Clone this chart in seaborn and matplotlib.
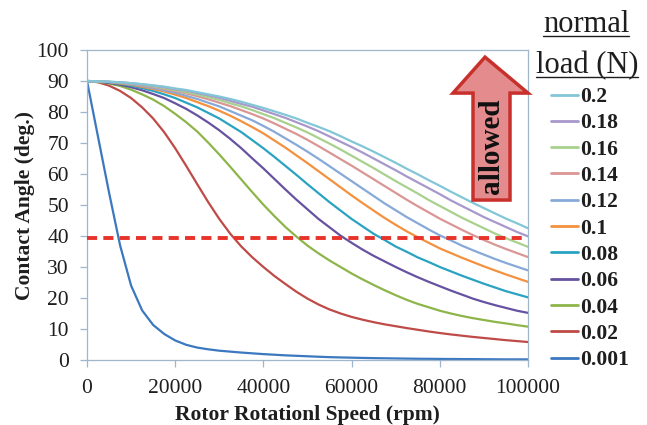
import matplotlib
matplotlib.use("Agg")
import matplotlib.pyplot as plt
import seaborn as sns
import pandas as pd
from matplotlib.patches import Polygon
from matplotlib.lines import Line2D

# ---------------- data ----------------
speed = list(range(0, 100001, 2500))   # rpm sampling grid (41 points)

loads = ["0.001", "0.02", "0.04", "0.06", "0.08", "0.1",
         "0.12", "0.14", "0.16", "0.18", "0.2"]

angle_0001 = [90, 72, 54, 37, 24, 16, 11.3, 8.4, 6.3, 4.9, 4.0, 3.45, 3.0, 2.7, 2.4,
              2.15, 1.9, 1.7, 1.5, 1.35, 1.2, 1.05, 0.92, 0.83, 0.75, 0.67, 0.6, 0.55,
              0.5, 0.45, 0.4, 0.38, 0.35, 0.32, 0.3, 0.28, 0.25, 0.23, 0.2, 0.2, 0.2]
angle_002 = [90, 89.6, 88.5, 86.8, 84.5, 81.5, 77.9, 73.5, 68.3, 62.6, 56.7, 50.9, 45.5,
             40.7, 36.6, 33.1, 30.0, 27.1, 24.5, 22.0, 19.8, 17.9, 16.3, 15.0, 13.9, 13.0,
             12.2, 11.5, 10.9, 10.3, 9.75, 9.2, 8.7, 8.25, 7.85, 7.45, 7.1, 6.75, 6.4,
             6.1, 5.8]
angle_004 = [90, 89.7, 89.2, 88.4, 87.2, 85.7, 84.0, 81.9, 79.4, 76.7, 73.7, 70.1, 66.3,
             62.3, 58.2, 54.1, 50.1, 46.4, 42.9, 39.8, 36.9, 34.4, 32.1, 30.0, 27.9, 26.0,
             24.2, 22.5, 20.9, 19.4, 18.1, 17.0, 15.9, 15.0, 14.2, 13.5, 12.9, 12.3, 11.8,
             11.25, 10.75]
angle_006 = [90, 89.8, 89.4, 88.8, 88.0, 87.0, 85.8, 84.5, 82.8, 81.0, 78.9, 76.6, 74.1,
             71.3, 68.3, 65.0, 61.8, 58.4, 55.0, 51.7, 48.6, 45.5, 42.8, 40.1, 37.8, 35.6,
             33.6, 31.8, 30.0, 28.3, 26.7, 25.2, 23.8, 22.4, 21.1, 19.8, 18.7, 17.7, 16.8,
             15.9, 15.2]
angle_008 = [90, 89.8, 89.6, 89.1, 88.5, 87.7, 86.8, 85.7, 84.5, 83.0, 81.5, 79.7, 77.9,
             75.7, 73.5, 70.9, 68.3, 65.5, 62.6, 59.7, 56.7, 53.8, 50.9, 48.2, 45.5, 43.1,
             40.7, 38.7, 36.6, 34.9, 33.1, 31.6, 30.0, 28.6, 27.2, 25.9, 24.6, 23.4, 22.2,
             21.2, 20.2]
angle_010 = [90, 89.8, 89.7, 89.2, 88.8, 88.1, 87.4, 86.6, 85.6, 84.5, 83.2, 81.9, 80.4,
             78.8, 77.0, 75.1, 73.1, 70.8, 68.5, 66.0, 63.5, 60.9, 58.3, 55.7, 53.1, 50.6,
             48.2, 45.8, 43.6, 41.5, 39.6, 37.8, 36.0, 34.5, 33.0, 31.6, 30.2, 28.9, 27.6,
             26.4, 25.2]
angle_012 = [90, 89.8, 89.7, 89.4, 88.9, 88.4, 87.7, 87.0, 86.2, 85.2, 84.2, 83.0, 81.8,
             80.3, 78.8, 77.3, 75.5, 73.6, 71.5, 69.4, 67.2, 64.9, 62.5, 60.1, 57.7, 55.3,
             52.9, 50.5, 48.3, 46.1, 44.1, 42.1, 40.2, 38.6, 36.9, 35.4, 34.0, 32.6, 31.3,
             30.1, 28.9]
angle_014 = [90, 89.9, 89.7, 89.5, 89.1, 88.6, 88.1, 87.4, 86.8, 86.0, 85.1, 84.1, 83.0,
             81.9, 80.6, 79.3, 77.9, 76.3, 74.6, 72.9, 71.0, 69.0, 66.9, 64.8, 62.7, 60.5,
             58.3, 56.1, 53.9, 51.7, 49.6, 47.6, 45.6, 43.8, 42.0, 40.3, 38.7, 37.2, 35.8,
             34.5, 33.2]
angle_016 = [90, 89.9, 89.7, 89.5, 89.2, 88.8, 88.3, 87.7, 87.1, 86.4, 85.6, 84.8, 83.9,
             82.8, 81.8, 80.6, 79.3, 78.0, 76.5, 75.0, 73.4, 71.6, 69.8, 67.9, 65.9, 63.9,
             61.9, 59.8, 57.7, 55.7, 53.7, 51.6, 49.7, 47.8, 45.9, 44.2, 42.5, 40.8, 39.3,
             37.9, 36.5]
angle_018 = [90, 89.9, 89.7, 89.6, 89.3, 88.9, 88.5, 88.0, 87.4, 86.9, 86.1, 85.4, 84.6,
             83.6, 82.6, 81.7, 80.5, 79.3, 78.1, 76.7, 75.3, 73.8, 72.1, 70.4, 68.7, 66.9,
             65.0, 63.1, 61.2, 59.2, 57.3, 55.4, 53.5, 51.5, 49.7, 47.9, 46.1, 44.5, 42.9,
             41.3, 39.9]
angle_020 = [90, 89.9, 89.8, 89.6, 89.3, 89.0, 88.6, 88.2, 87.6, 87.1, 86.4, 85.7, 85.0,
             84.2, 83.3, 82.3, 81.3, 80.2, 79.1, 77.9, 76.5, 75.2, 73.8, 72.2, 70.5, 68.9,
             67.2, 65.4, 63.6, 61.7, 59.9, 58.0, 56.2, 54.3, 52.5, 50.7, 49.0, 47.3, 45.6,
             44.1, 42.5]

threshold = 39.5

colors = {
    "0.001": "#3B78C0", "0.02": "#BE4B48", "0.04": "#8DB54A", "0.06": "#6652A0",
    "0.08": "#2AA2C2", "0.1": "#F3913E", "0.12": "#86A9D8", "0.14": "#D99694",
    "0.16": "#A9D18E", "0.18": "#A898CB", "0.2": "#82C6D8",
}

series = {
    "0.001": angle_0001, "0.02": angle_002, "0.04": angle_004, "0.06": angle_006,
    "0.08": angle_008, "0.1": angle_010, "0.12": angle_012, "0.14": angle_014,
    "0.16": angle_016, "0.18": angle_018, "0.2": angle_020,
}

rows = []
for ld in loads:
    for xv, yv in zip(speed, series[ld]):
        rows.append({"speed": xv, "angle": yv, "load": ld})
df = pd.DataFrame(rows)

# ---------------- style ----------------
sns.set_theme(style="white")
plt.rcParams["font.family"] = ["Liberation Serif", "DejaVu Serif"]
frame_col = "#9FB6CD"
text_col = "#1E1E1E"

W, H = 647, 425
fig = plt.figure(figsize=(W / 100, H / 100), dpi=100)
ax = fig.add_axes([87 / W, 65 / H, 441 / W, 310 / H])

sns.lineplot(data=df, x="speed", y="angle", hue="load", hue_order=loads,
             palette=colors, linewidth=1.6, estimator=None, legend=False, ax=ax)

# allowed threshold
ax.plot([0, 100000], [threshold, threshold], color="#E8332A", lw=2.8,
        dashes=(2.6, 1.6), solid_capstyle="butt", dash_capstyle="butt", zorder=5)

ax.set_xlim(0, 100000)
ax.set_ylim(0, 100)
xt = [0, 20000, 40000, 60000, 80000, 100000]
ax.set_xticks(xt)
ax.set_xticklabels([str(v) for v in xt])
ax.set_yticks(range(0, 101, 10))

for s in ax.spines.values():
    s.set_color(frame_col)
    s.set_linewidth(0.9)
ax.tick_params(axis="both", which="both", bottom=True, left=True, direction="out",
               length=5, width=0.9, color=frame_col, labelsize=15.5, labelcolor=text_col)
ax.tick_params(axis="x", pad=9)
ax.tick_params(axis="y", pad=8)

ax.set_xlabel("Rotor Rotationl Speed (rpm)", fontsize=15.5, fontweight="bold",
              color=text_col)
ax.set_ylabel("Contact Angle (deg.)", fontsize=15.5, fontweight="bold", color=text_col)
ax.xaxis.set_label_coords(0.5, -0.145)
ax.yaxis.set_label_coords(-0.117, 0.5)

# "allowed" arrow
arrow_pts = [(87530, 51.6), (95920, 51.6), (95920, 86.1), (100000, 86.1),
             (90250, 97.7), (82990, 86.1), (87530, 86.1)]
ax.add_patch(Polygon(arrow_pts, closed=True, facecolor="#E38B8D", edgecolor="#C8302B",
                     lw=2.5, joinstyle="miter", clip_on=False, zorder=6))
ax.text(91750, 69, "allowed", rotation=90, ha="center", va="center",
        fontsize=21, fontweight="bold", color="#111111", zorder=7)

# legend
handles = [Line2D([0], [0], color=colors[l], lw=2.0) for l in loads[::-1]]
leg = fig.legend(handles, loads[::-1], loc="upper left",
                 bbox_to_anchor=(551 / W, 1 - 87 / H), frameon=False,
                 prop={"weight": "bold", "size": 15.5}, handlelength=1.25,
                 handletextpad=0.08, labelspacing=0.29, borderaxespad=0, borderpad=0)
for t in leg.get_texts():
    t.set_color(text_col)

# legend title with underline
t1 = fig.text(586 / W, 1 - 32 / H, "normal", ha="center", va="baseline",
              fontsize=22, color=text_col)
t2 = fig.text(587 / W, 1 - 73 / H, "load (N)", ha="center", va="baseline",
              fontsize=22, color=text_col)
fig.canvas.draw()
r = fig.canvas.get_renderer()
for t, yb in ((t1, 32), (t2, 73)):
    bb = t.get_window_extent(renderer=r)
    yl = 1 - (yb + 4) / H
    fig.add_artist(Line2D([bb.x0 / W, bb.x1 / W], [yl, yl], color=text_col, lw=1.0,
                          transform=fig.transFigure))

fig.savefig("out.png", dpi=100)
